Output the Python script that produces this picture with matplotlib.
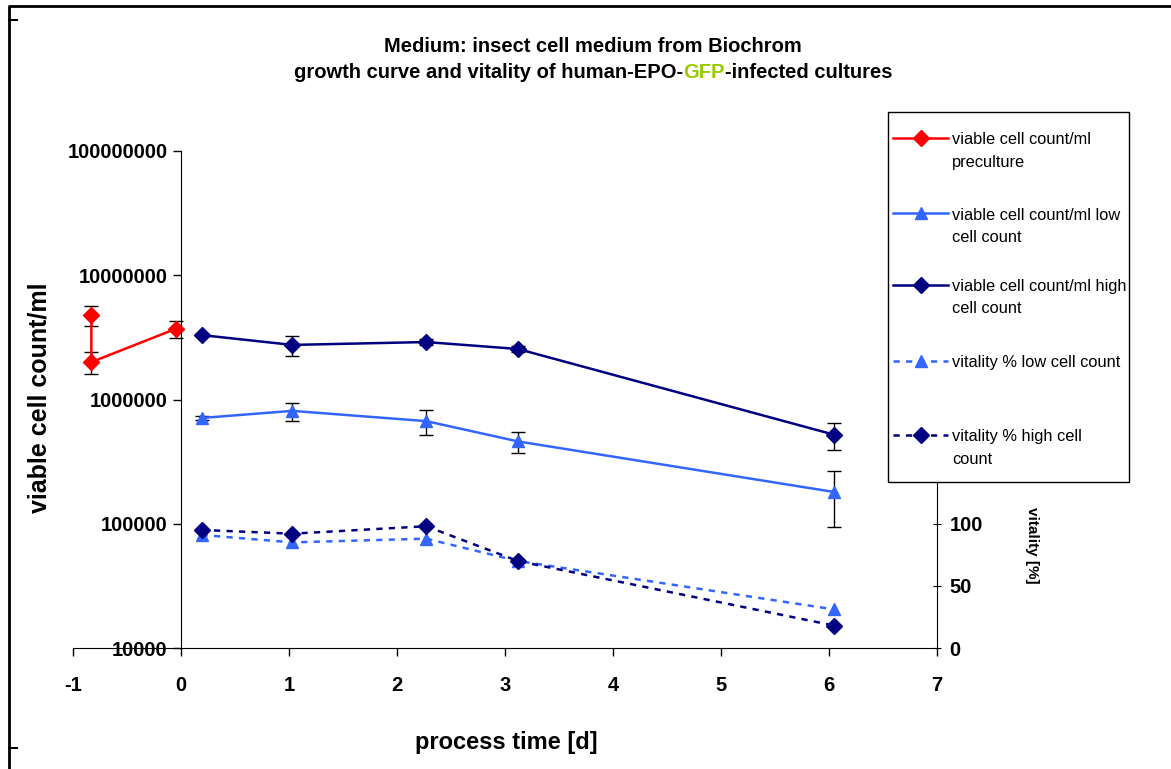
import matplotlib
matplotlib.use("Agg")
import matplotlib.pyplot as plt
from matplotlib.lines import Line2D
from matplotlib.patches import Rectangle
import numpy as np

plt.rcParams['font.family'] = ['Liberation Sans', 'DejaVu Sans']
plt.rcParams['axes.unicode_minus'] = False

# preculture
pre_t = [-0.83, -0.83, -0.05]
pre_cells = [4.8e6, 2.0e6, 3.7e6]
pre_err = [0.9e6, 0.4e6, 0.55e6]

# infected cultures
t = [0.19, 1.03, 2.27, 3.12, 6.05]
low_cells = [7.1e5, 8.1e5, 6.7e5, 4.6e5, 1.8e5]
low_err = [0.3e5, 1.35e5, 1.5e5, 0.9e5, 0.86e5]
high_cells = [3.3e6, 2.75e6, 2.9e6, 2.55e6, 5.2e5]
high_err = [0.05e6, 0.5e6, 0.15e6, 0.15e6, 1.3e5]
low_vit = [91, 85, 88, 70, 31]
high_vit = [95, 92, 98, 70, 18]

legend_labels = [['viable cell count/ml', 'preculture'],
                 ['viable cell count/ml low', 'cell count'],
                 ['viable cell count/ml high', 'cell count'],
                 ['vitality % low cell count'],
                 ['vitality % high cell', 'count']]

red = '#FF0000'
light = '#3366FF'
navy = '#000080'
dash = (0, (2.5, 2.5))

fig = plt.figure(figsize=(11.71, 7.69), dpi=100)
W, H = 1171, 769
ax = fig.add_axes([73 / W, (H - 648) / H, (937 - 73) / W, (648 - 151) / H])
ax.set_yscale('log')
ax.set_xlim(-1, 7)
ax.set_ylim(1e4, 1e8)

ekw = dict(ecolor='black', elinewidth=1, capsize=5, capthick=1)
ax.errorbar(pre_t, pre_cells, yerr=pre_err, color=red, marker='D', ms=8, lw=1.8, **ekw)
ax.errorbar(t, low_cells, yerr=low_err, color=light, marker='^', ms=9, lw=1.8, **ekw)
ax.errorbar(t, high_cells, yerr=high_err, color=navy, marker='D', ms=8, lw=1.8, **ekw)

ax.spines['left'].set_position(('data', 0))
ax.spines['top'].set_visible(False)
ax.spines['right'].set_visible(False)
ax.set_yticks([1e4, 1e5, 1e6, 1e7, 1e8])
ax.set_yticklabels(['10000', '100000', '1000000', '10000000', '100000000'])
ax.yaxis.set_minor_locator(matplotlib.ticker.NullLocator())
ax.set_xticks(range(-1, 8))
ax.tick_params(axis='both', labelsize=14.5, length=6, width=1, direction='out')
for lab in ax.get_xticklabels() + ax.get_yticklabels():
    lab.set_fontweight('bold')
ax.tick_params(axis='x', pad=14)

ax2 = ax.twinx()
ax2.set_ylim(0, 400)
ax2.set_yticks([0, 50, 100])
ax2.tick_params(axis='y', labelsize=14.5, length=6, direction='inout', pad=6)
for lab in ax2.get_yticklabels():
    lab.set_fontweight('bold')
for s in ['top', 'left', 'bottom']:
    ax2.spines[s].set_visible(False)
ax2.plot(t, low_vit, color=light, ls=dash, lw=1.8, marker='^', ms=9)
ax2.plot(t, high_vit, color=navy, ls=dash, lw=1.8, marker='D', ms=8)

# legend box drawn over the right axis
fig.add_artist(Rectangle((888 / W, 1 - 482 / H), (1129 - 888) / W, (482 - 112) / H,
                         transform=fig.transFigure, facecolor='white', edgecolor='black',
                         lw=1, zorder=5))
styles = [(red, '-', 'D', 8), (light, '-', '^', 9), (navy, '-', 'D', 8),
          (light, dash, '^', 9), (navy, dash, 'D', 8)]
rows = [138, 213, 285, 361, 435]
for (c, ls, m, ms), y, lines in zip(styles, rows, legend_labels):
    yf = 1 - y / H
    fig.add_artist(Line2D([893 / W, 948 / W], [yf, yf], transform=fig.transFigure,
                          color=c, ls=ls, lw=1.8, zorder=6))
    fig.add_artist(Line2D([920.5 / W], [yf], transform=fig.transFigure, color=c,
                          marker=m, ms=ms, zorder=6))
    for k, s in enumerate(lines):
        fig.text(952 / W, 1 - (y + 2 + 22 * k) / H, s, fontsize=11.8, va='center',
                 ha='left', zorder=6)

fig.text(40 / W, 1 - 398 / H, 'viable cell count/ml', rotation=90, fontsize=18,
         fontweight='bold', ha='center', va='center')
fig.text(506 / W, 1 - 743 / H, 'process time [d]', fontsize=17,
         fontweight='bold', ha='center', va='center')
fig.text(1032 / W, 1 - 545 / H, 'vitality [%]', rotation=-90, fontsize=11,
         fontweight='bold', ha='center', va='center')

# title with green GFP
fig.text(593 / W, 1 - 47 / H, 'Medium: insect cell medium from Biochrom', fontsize=14.5,
         fontweight='bold', ha='center', va='center')
parts = [('growth curve and vitality of human-EPO-', 'black'), ('GFP', '#99CC00'),
         ('-infected cultures', 'black')]
fig.canvas.draw()
r = fig.canvas.get_renderer()
texts = [fig.text(0, 1 - 73 / H, s, color=c, fontsize=14.5, fontweight='bold', va='center')
         for s, c in parts]
widths = [tx.get_window_extent(r).width for tx in texts]
x0 = 593 - sum(widths) / 2
for tx, w in zip(texts, widths):
    tx.set_x(x0 / W)
    x0 += w

# chart border
fig.add_artist(Line2D([9 / W, 9 / W, 1.0], [0, 1 - 6 / H, 1 - 6 / H], transform=fig.transFigure,
                      color='black', lw=2))
fig.add_artist(Line2D([9 / W, 17 / W], [1 - 20 / H, 1 - 20 / H], transform=fig.transFigure,
                      color='black', lw=1.5))
fig.add_artist(Line2D([9 / W, 17 / W], [1 - 748 / H, 1 - 748 / H], transform=fig.transFigure,
                      color='black', lw=1.5))

fig.savefig('out.png', dpi=100)
